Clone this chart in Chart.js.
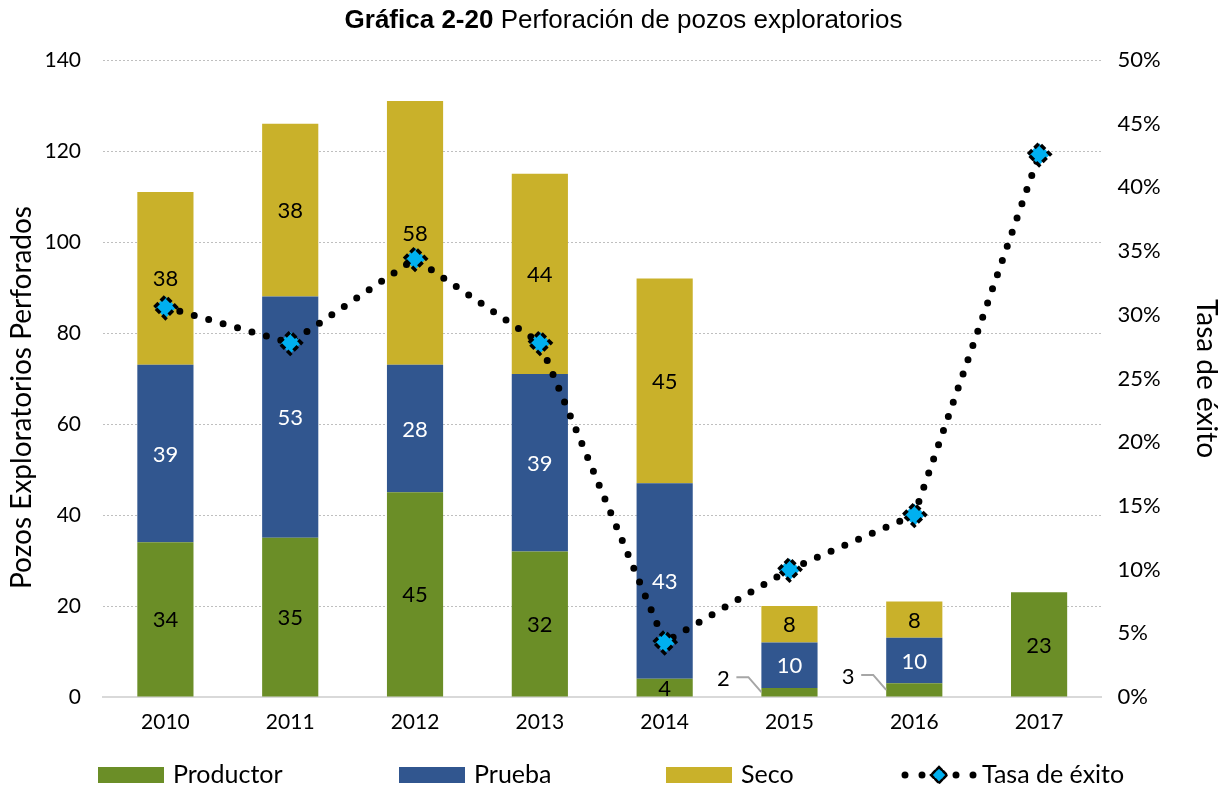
<!DOCTYPE html>
<html><head><meta charset="utf-8">
<script src="https://cdn.jsdelivr.net/npm/chart.js@4"></script>
<style>html,body{margin:0;padding:0;background:#fff}canvas{display:block}</style>
</head><body>
<canvas id="c" width="1225" height="789" style="width:1225px;height:789px"></canvas>
<script>
const categories = ['2010','2011','2012','2013','2014','2015','2016','2017'];
const productor = [34, 35, 45, 32, 4, 2, 3, 23];
const prueba    = [39, 53, 28, 39, 43, 10, 10, 0];
const seco      = [38, 38, 58, 44, 45, 8, 8, 0];
const tasaExito = [30.6, 27.8, 34.4, 27.8, 4.3, 10.0, 14.3, 42.6];
const seriesNames = ['Productor', 'Prueba', 'Seco', 'Tasa de éxito'];
const titleBold = 'Gráfica 2-20';
const titleRest = ' Perforación de pozos exploratorios';
const leftTitle = 'Pozos Exploratorios Perforados';
const rightTitle = 'Tasa de éxito';

const GREEN = '#6B8E27', BLUE = '#31568F', YELLOW = '#C9B12A', CYAN = '#00B0F0';
const FONT = 'Lato';

const labelPlugin = {
  id: 'barLabels',
  afterDatasetsDraw(chart) {
    const ctx = chart.ctx;
    ctx.save();
    ctx.font = '22px ' + FONT;
    ctx.textAlign = 'center';
    ctx.textBaseline = 'middle';
    chart.data.datasets.forEach((ds, di) => {
      if (ds.type === 'line') return;
      const meta = chart.getDatasetMeta(di);
      meta.data.forEach((bar, i) => {
        const v = ds.data[i];
        if (!v) return;
        const top = Math.min(bar.y, bar.base), bottom = Math.max(bar.y, bar.base);
        const mid = (top + bottom) / 2;
        if (bottom - top < 16) {
          const left = bar.x - bar.width / 2;
          const lx = left - 38, ly = mid - 13;
          ctx.fillStyle = '#000';
          ctx.fillText(String(v), lx, ly);
          ctx.strokeStyle = '#A6A6A6';
          ctx.lineWidth = 2;
          ctx.beginPath();
          ctx.moveTo(lx + 13, ly - 2);
          ctx.lineTo(lx + 25, ly - 2);
          ctx.lineTo(left, mid);
          ctx.stroke();
        } else {
          ctx.fillStyle = ds.labelColor;
          ctx.fillText(String(v), bar.x, mid + 1);
        }
      });
    });
    ctx.restore();
  }
};

const markerDash = {
  id: 'markerDash',
  beforeDatasetDraw(chart, args) {
    if (chart.data.datasets[args.index].type === 'line') chart.ctx.setLineDash([6, 3]);
  },
  afterDatasetDraw(chart, args) {
    if (chart.data.datasets[args.index].type === 'line') chart.ctx.setLineDash([]);
  }
};

const titlePlugin = {
  id: 'mixedTitle',
  afterDraw(chart) {
    const ctx = chart.ctx;
    ctx.save();
    const fb = 'bold 26px "Liberation Sans"', fr = '26px "Liberation Sans"';
    ctx.font = fb; const w1 = ctx.measureText(titleBold).width;
    ctx.font = fr; const w2 = ctx.measureText(titleRest).width;
    const cx = chart.width / 2 + 11;
    const x0 = cx - (w1 + w2) / 2;
    ctx.fillStyle = '#000';
    ctx.textBaseline = 'middle';
    ctx.textAlign = 'left';
    ctx.font = fb; ctx.fillText(titleBold, x0, 21);
    ctx.font = fr; ctx.fillText(titleRest, x0 + w1, 21);
    ctx.restore();
  }
};

// left axis title drawn manually so it can sit slightly below the axis centre, as in the reference
const leftTitlePlugin = {
  id: 'leftTitle',
  afterDraw(chart) {
    const ctx = chart.ctx, a = chart.chartArea;
    ctx.save();
    ctx.font = '28px ' + FONT;
    ctx.fillStyle = '#000';
    ctx.textAlign = 'center';
    ctx.textBaseline = 'middle';
    ctx.translate(22, (a.top + a.bottom) / 2 + 19);
    ctx.rotate(-Math.PI / 2);
    ctx.fillText(leftTitle, 0, 0);
    ctx.restore();
  }
};

const legendPlugin = {
  id: 'customLegend',
  afterDraw(chart) {
    const ctx = chart.ctx;
    ctx.save();
    const y = 775;
    const xs = [98, 399, 666, 900];
    const colors = [GREEN, BLUE, YELLOW];
    ctx.font = '25px ' + FONT;
    ctx.textBaseline = 'middle';
    ctx.textAlign = 'left';
    for (let k = 0; k < 3; k++) {
      ctx.fillStyle = colors[k];
      ctx.fillRect(xs[k], y - 8, 66, 16);
      ctx.fillStyle = '#000';
      ctx.fillText(seriesNames[k], xs[k] + 75, y);
    }
    const x = xs[3];
    ctx.strokeStyle = '#000';
    ctx.lineWidth = 7;
    ctx.lineCap = 'round';
    ctx.setLineDash([0, 17]);
    ctx.beginPath(); ctx.moveTo(x + 5, y); ctx.lineTo(x + 76, y); ctx.stroke();
    ctx.setLineDash([4, 2]);
    ctx.lineWidth = 2.5;
    ctx.fillStyle = CYAN;
    const cx = x + 39, r = 8;
    ctx.beginPath();
    ctx.moveTo(cx, y - r); ctx.lineTo(cx + r, y); ctx.lineTo(cx, y + r); ctx.lineTo(cx - r, y); ctx.closePath();
    ctx.fill(); ctx.stroke();
    ctx.setLineDash([]);
    ctx.fillStyle = '#000';
    ctx.fillText(seriesNames[3], x + 82, y);
    ctx.restore();
  }
};

new Chart(document.getElementById('c'), {
  data: {
    labels: categories,
    datasets: [
      { type: 'line', label: seriesNames[3], data: tasaExito, yAxisID: 'y1', order: 0,
        borderColor: '#000', borderWidth: 7, borderDash: [0, 15], borderCapStyle: 'round',
        tension: 0, fill: false, pointStyle: 'rectRot', pointRadius: 11, pointHoverRadius: 11,
        pointBackgroundColor: CYAN, pointBorderColor: '#000', pointBorderWidth: 3.5, clip: false },
      { type: 'bar', label: seriesNames[0], data: productor, backgroundColor: GREEN, labelColor: '#000', yAxisID: 'y', order: 1 },
      { type: 'bar', label: seriesNames[1], data: prueba, backgroundColor: BLUE, labelColor: '#fff', yAxisID: 'y', order: 1 },
      { type: 'bar', label: seriesNames[2], data: seco, backgroundColor: YELLOW, labelColor: '#000', yAxisID: 'y', order: 1 }
    ]
  },
  options: {
    responsive: false,
    animation: false,
    devicePixelRatio: 1,
    layout: { padding: { top: 60, left: 0, right: 0, bottom: 0 } },
    datasets: { bar: { categoryPercentage: 1, barPercentage: 0.45 } },
    plugins: { legend: { display: false }, tooltip: { enabled: false }, title: { display: false } },
    scales: {
      x: {
        stacked: true,
        grid: { display: false, drawTicks: false },
        border: { display: true, color: '#D9D9D9', width: 2 },
        ticks: { color: '#000', font: { family: FONT, size: 21 }, padding: 13 },
        afterFit(s) { s.height = 92; }
      },
      y: {
        stacked: true, position: 'left', min: 0, max: 140,
        ticks: { stepSize: 20, color: '#000', font: { family: FONT, size: 21 }, padding: 22 },
        grid: { color: '#BFBFBF', lineWidth: 1, drawTicks: false },
        border: { display: false, dash: [2, 2] },
        title: { display: false },
        afterFit(s) { s.width = 103; }
      },
      y1: {
        position: 'right', min: 0, max: 50,
        ticks: { stepSize: 5, color: '#000', font: { family: FONT, size: 22 }, padding: 16, callback: v => v + '%' },
        grid: { drawOnChartArea: false, drawTicks: false },
        border: { display: false },
        title: { display: true, text: rightTitle, color: '#000', font: { family: FONT, size: 28 }, padding: { top: 2, bottom: 0 } },
        afterFit(s) { s.width = 123.5; }
      }
    }
  },
  plugins: [markerDash, labelPlugin, titlePlugin, leftTitlePlugin, legendPlugin]
});
</script>
</body></html>
